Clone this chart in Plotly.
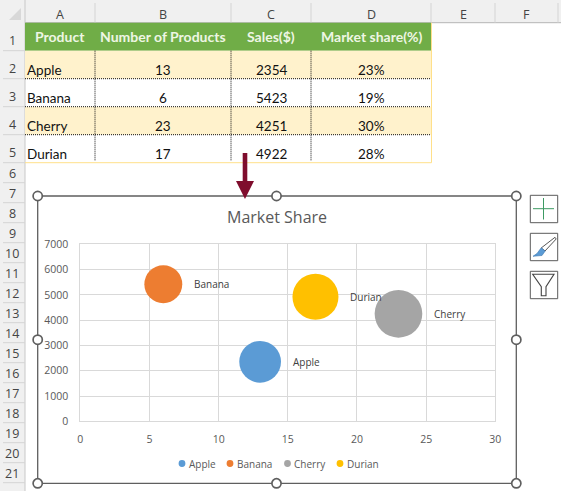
import math
import plotly.graph_objects as go

# ---- data ----
products = ["Apple", "Banana", "Cherry", "Durian"]
counts = [13, 6, 23, 17]
sales = [2354, 5423, 4251, 4922]
shares = [23, 19, 30, 28]
colors = ["#5b9bd5", "#ed7d31", "#a5a5a5", "#ffc000"]
table_headers = ["Product", "Number of Products", "Sales($)", "Market share(%)"]
column_letters = ["A", "B", "C", "D", "E", "F"]
chart_title = "Market Share"

W, H = 561, 491
px = lambda x: x / W
py = lambda y: 1 - y / H

# sheet geometry (screen pixels)
col_edges = [25, 95, 231, 311, 431, 495, 558]
row_edges = [22.7, 50.7, 78.7, 106.7, 134.7, 162.7, 182.7] + [182.7 + 20 * i for i in range(1, 16)]
PLOT = (80.3, 495.3, 244.3, 421.3)
BUBBLE_K = 8.7  # px of diameter per sqrt(share)

shapes, annos = [], []


def rect(x0, y0, x1, y1, fill=None, line=None, lw=1, layer="below"):
    shapes.append(dict(type="rect", xref="paper", yref="paper", x0=px(x0), x1=px(x1), y0=py(y0), y1=py(y1),
                       fillcolor=fill or "rgba(0,0,0,0)", line=dict(color=line or "rgba(0,0,0,0)", width=lw if line else 0),
                       layer=layer))


def seg(x0, y0, x1, y1, color, lw=1, dash="solid", layer="below"):
    shapes.append(dict(type="line", xref="paper", yref="paper", x0=px(x0), x1=px(x1), y0=py(y0), y1=py(y1),
                       line=dict(color=color, width=lw, dash=dash), layer=layer))


def poly(pts, fill, line=None, lw=1, layer="above"):
    d = "M" + " L".join(f"{px(x):.5f},{py(y):.5f}" for x, y in pts) + " Z"
    shapes.append(dict(type="path", xref="paper", yref="paper", path=d, fillcolor=fill,
                       line=dict(color=line or "rgba(0,0,0,0)", width=lw if line else 0), layer=layer))


def circle(cx, cy, r, fill, line=None, lw=1, layer="above"):
    shapes.append(dict(type="circle", xref="paper", yref="paper", x0=px(cx - r), x1=px(cx + r), y0=py(cy + r), y1=py(cy - r),
                       fillcolor=fill, line=dict(color=line or "rgba(0,0,0,0)", width=lw if line else 0), layer=layer))


def text(x, y, s, size, color, family, anchor="center", bold=False):
    annos.append(dict(xref="paper", yref="paper", x=px(x), y=py(y), text=f"<b>{s}</b>" if bold else s, showarrow=False,
                      xanchor=anchor, yanchor="middle", font=dict(size=size, color=color, family=family),
                      borderpad=0, borderwidth=0))


# sheet headers
HDR = "#f0f0f0"
rect(0, 0, W, 22.7, HDR)
rect(0, 0, 25, H, HDR)
seg(25, 22.7, W, 22.7, "#b5b5b5", 1)
seg(25, 0, 25, H, "#c8c8c8", 1)
poly([(21, 8), (21, 20), (9, 20)], "#d8d8d8", layer="below")
for e in col_edges[1:]:
    seg(e, 3, e, 22.7, "#d4d4d4", 1)
for i, c in enumerate(column_letters):
    text((col_edges[i] + col_edges[i + 1]) / 2, 14, c, 12.5, "#444444", "Open Sans")
for i in range(len(row_edges) - 1):
    seg(3, row_edges[i + 1], 25, row_edges[i + 1], "#d4d4d4", 1)
    off = 4 if i < 5 else 0.5
    text(12, (row_edges[i] + row_edges[i + 1]) / 2 + off, str(i + 1), 12.5, "#444444", "Open Sans")

# table
rect(25, 22.7, 431, 50.7, "#70ad47")
for i in range(4):
    if i % 2 == 0:
        rect(25, row_edges[i + 1], 431, row_edges[i + 2], "#fff2cc")
for i, h in enumerate(table_headers):
    text((col_edges[i] + col_edges[i + 1]) / 2, 37, h, 14, "#eef6e4", "Lato", bold=True)
for i, p in enumerate(products):
    y = (row_edges[i + 1] + row_edges[i + 2]) / 2 + 5
    text(27, y, p, 13.5, "#111111", "Lato", anchor="left")
    text(163, y, str(counts[i]), 13.5, "#111111", "Lato")
    text(271, y, str(sales[i]), 13.5, "#111111", "Lato")
    text(371, y, f"{shares[i]}%", 13.5, "#111111", "Lato")
for y in row_edges[2:5]:
    seg(25, y, 431, y, "#111111", 1, "1px,1px")
for x in col_edges[1:4]:
    seg(x, 50.7, x, 161, "#111111", 1, "1px,1px")
seg(431.5, 22.7, 431.5, 162.7, "#ffe08a", 1)
seg(25, 162.7, 431.5, 162.7, "#ffe08a", 1)

# chart frame
rect(37.7, 196, 516.3, 483.3, "#ffffff", "#5f5f5f", 1.3)
text(276.5, 217, chart_title, 16, "#595959", "Open Sans")

# legend (compact, as drawn in the sheet)
legend_dots = [182, 230, 287.5, 340]
for i, p in enumerate(products):
    circle(legend_dots[i], 463.5, 3.4, colors[i])
    text(legend_dots[i] + 6.5, 463.5, p, 10, "#595959", "Open Sans", anchor="left")

# handles
for hx, hy in [(37.7, 196), (276.5, 196), (516.3, 196), (37.7, 339.7), (516.3, 339.7),
               (37.7, 483.3), (276.5, 483.3), (516.3, 483.3)]:
    circle(hx, hy, 4.6, "#ffffff", "#5f5f5f", 1.7)

# red arrow
poly([(242.7, 153), (247.3, 153), (247.3, 181), (254, 181), (245, 199), (236, 181), (242.7, 181)], "#7f0d2d")

# side buttons
for y0 in (195.3, 233.3, 271.3):
    rect(530.3, y0, 557.7, y0 + 27.4, "#ffffff", "#5a5a5a", 1, layer="above")
seg(533, 208.7, 554, 208.7, "#3d9a63", 1, layer="above")
seg(543.5, 198, 543.5, 219.5, "#3d9a63", 1, layer="above")
poly([(555, 237.3), (556.2, 239), (545, 251), (541.2, 248)], "#ffffff", "#444444", 0.9)
poly([(541.2, 247.8), (545.2, 251), (542, 255.5), (533, 256.3), (537, 253.5)], "#5b9bd5", "#3f78b0", 0.6)
poly([(532.7, 274.3), (554, 274.3), (546, 286.7), (546, 295.7), (541.3, 295.7), (541.3, 286.7)],
     "#ffffff", "#444444", 1.1)

# bubbles
traces = []
for i, p in enumerate(products):
    traces.append(go.Scatter(
        x=[counts[i]], y=[sales[i]], mode="markers", name=p, showlegend=False,
        marker=dict(size=[shares[i]], sizemode="area", sizeref=2 / BUBBLE_K ** 2, color=colors[i], opacity=1,
                    line=dict(width=0)),
    ))
    annos.append(dict(x=counts[i], y=sales[i], xref="x", yref="y", text=p, showarrow=False, xanchor="left",
                      yanchor="middle", xshift=BUBBLE_K * math.sqrt(shares[i]) / 2 + 10,
                      font=dict(size=10, color="#404040", family="Open Sans")))

fig = go.Figure(traces)
axis_style = dict(showgrid=True, gridcolor="#d9d9d9", gridwidth=1, zeroline=False, showline=True, linecolor="#d9d9d9",
                  linewidth=1, mirror=True, ticks="", fixedrange=True,
                  tickfont=dict(size=10.5, color="#595959", family="Open Sans"))
fig.update_layout(
    width=W, height=H, margin=dict(l=0, r=0, t=0, b=0, autoexpand=False), autosize=False,
    paper_bgcolor="#ffffff", plot_bgcolor="rgba(0,0,0,0)", showlegend=False,
    xaxis=dict(domain=[px(PLOT[0]), px(PLOT[1])], range=[0, 30], dtick=5, ticklabelstandoff=8, **axis_style),
    yaxis=dict(domain=[py(PLOT[3]), py(PLOT[2])], range=[0, 7000], dtick=1000, ticklabelstandoff=9, **axis_style),
    shapes=shapes, annotations=annos,
)
fig.write_html("out.html", config=dict(displayModeBar=False),
               post_script="document.body.style.margin='0';")
